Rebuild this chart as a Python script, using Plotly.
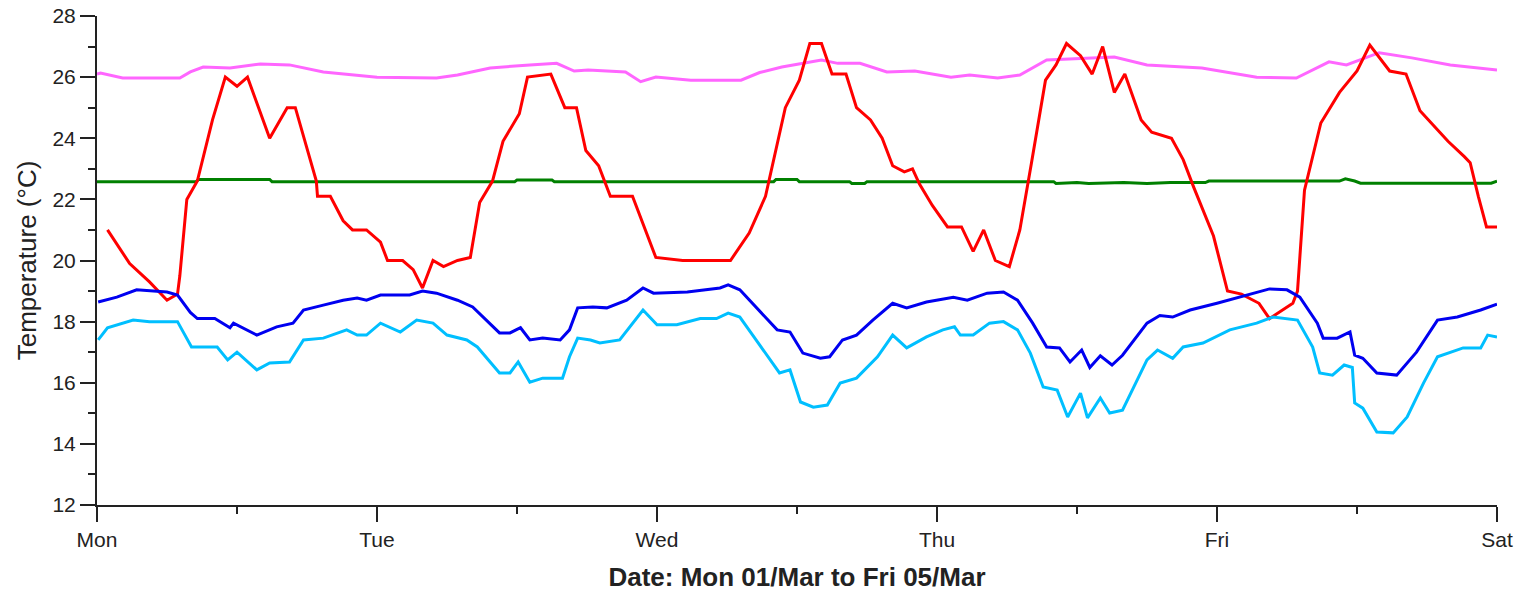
import plotly.graph_objects as go

# Hours since Mon 00:00 (0..120 = Mon..Sat)
day_ticks = [0, 24, 48, 72, 96, 120]
day_labels = ["Mon", "Tue", "Wed", "Thu", "Fri", "Sat"]

magenta_h = [0, 0.3, 2.2, 7.1, 8.0, 9.1, 11.4, 14.0, 16.5, 19.4, 24.0, 26.8, 29.1, 30.9, 33.7,
             37.1, 39.4, 40.9, 42.1, 45.3, 46.6, 47.9, 50.9, 55.2, 56.8, 58.7, 62.1, 63.5, 65.4,
             67.7, 70.1, 73.2, 74.8, 77.2, 79.1, 81.4, 83.4, 87.2, 90.0, 94.7, 99.4, 102.8,
             105.6, 107.1, 109.9, 112.7, 116.0, 120.0]
magenta_v = [26.1, 26.13, 25.97, 25.97, 26.17, 26.33, 26.3, 26.43, 26.4, 26.17, 26.0, 25.97, 25.97,
             26.07, 26.3, 26.4, 26.45, 26.2, 26.23, 26.17, 25.85, 26.0, 25.9, 25.9, 26.15, 26.33,
             26.56, 26.45, 26.45, 26.17, 26.2, 26.0, 26.07, 25.97, 26.07, 26.56, 26.6, 26.66,
             26.4, 26.3, 26.0, 25.97, 26.5, 26.4, 26.8, 26.63, 26.4, 26.23]

red_h = [0.9, 2.8, 4.5, 6.0, 6.9, 7.1, 7.7, 8.6, 9.9, 11.0, 12.0, 12.9, 14.8, 16.3, 17.0, 18.8,
         18.9, 20.0, 21.1, 21.9, 23.1, 24.3, 24.9, 26.2, 27.1, 27.9, 28.8, 29.7, 30.9, 32.0, 32.8,
         33.9, 34.8, 36.2, 36.9, 38.9, 40.1, 41.1, 41.9, 43.0, 44.0, 45.9, 47.9, 50.2, 54.3, 55.9,
         57.3, 59.0, 60.2, 61.1, 62.1, 63.0, 64.2, 65.1, 66.3, 67.3, 68.2, 69.2, 69.9, 70.5, 71.6,
         72.9, 74.1, 75.1, 76.0, 77.0, 78.2, 79.1, 80.1, 81.3, 82.2, 83.1, 84.3, 85.3, 86.2, 87.2,
         88.1, 89.5, 90.4, 92.1, 93.1, 94.0, 95.7, 96.9, 98.1, 99.6, 100.5, 102.5, 102.9, 103.5,
         104.9, 106.5, 108.0, 109.1, 110.8, 112.2, 113.4, 114.6, 115.8, 117.2, 117.7, 118.4,
         119.1, 120.0]
red_v = [21.0, 19.9, 19.3, 18.7, 18.9, 19.5, 22.0, 22.6, 24.6, 26.0, 25.7, 26.0, 24.0, 25.0, 25.0,
         22.6, 22.1, 22.1, 21.3, 21.0, 21.0, 20.6, 20.0, 20.0, 19.7, 19.1, 20.0, 19.8, 20.0, 20.1,
         21.9, 22.6, 23.9, 24.8, 26.0, 26.1, 25.0, 25.0, 23.6, 23.1, 22.1, 22.1, 20.1, 20.0, 20.0,
         20.9, 22.1, 25.0, 25.9, 27.1, 27.1, 26.1, 26.1, 25.0, 24.6, 24.0, 23.1, 22.9, 23.0, 22.5,
         21.8, 21.1, 21.1, 20.3, 21.0, 20.0, 19.8, 21.0, 23.2, 25.9, 26.4, 27.1, 26.7, 26.1, 27.0,
         25.5, 26.1, 24.6, 24.2, 24.0, 23.3, 22.4, 20.8, 19.0, 18.9, 18.6, 18.1, 18.6, 19.0, 22.3,
         24.5, 25.5, 26.2, 27.05, 26.2, 26.1, 24.9, 24.4, 23.9, 23.4, 23.2, 22.1, 21.1, 21.1]

green_h = [0, 8.5, 8.7, 14.8, 15.0, 35.8, 36.0, 39.0, 39.2, 58.0, 58.2, 60.0, 60.2, 64.5, 64.7,
           65.8, 66.0, 82.0, 82.2, 84.0, 85.0, 88.0, 90.0, 92.0, 95.0, 95.3, 106.5, 107.0, 107.8,
           108.3, 119.5, 120.0]
green_v = [22.58, 22.58, 22.65, 22.65, 22.58, 22.58, 22.63, 22.63, 22.58, 22.58, 22.65, 22.65,
           22.58, 22.58, 22.52, 22.52, 22.58, 22.58, 22.52, 22.55, 22.52, 22.55, 22.52, 22.55,
           22.55, 22.6, 22.6, 22.67, 22.6, 22.53, 22.53, 22.6]

blue_h = [0.1, 1.7, 3.4, 6.0, 6.9, 8.0, 8.6, 10.1, 11.4, 11.7, 13.7, 15.4, 16.8, 17.7, 19.4, 21.1,
          22.3, 23.1, 24.3, 26.8, 27.9, 29.1, 30.9, 32.2, 34.5, 35.4, 36.3, 37.1, 38.2, 39.7, 40.5,
          41.2, 42.5, 43.7, 45.4, 46.8, 47.7, 50.6, 53.4, 54.1, 55.1, 56.2, 58.3, 59.4, 60.5, 62.0,
          62.8, 63.9, 65.1, 66.5, 68.2, 69.4, 71.1, 73.4, 74.6, 76.3, 77.7, 78.9, 80.2, 81.4, 82.5,
          83.4, 84.4, 85.1, 86.0, 87.0, 87.9, 90.0, 91.1, 92.2, 93.7, 96.0, 98.2, 100.5, 102.0,
          103.1, 104.6, 105.1, 106.3, 107.4, 107.8, 108.5, 109.7, 111.4, 113.1, 114.9, 116.6,
          118.6, 120.0]
blue_v = [18.64, 18.8, 19.04, 18.97, 18.87, 18.3, 18.1, 18.1, 17.8, 17.95, 17.56, 17.83, 17.95,
          18.38, 18.54, 18.7, 18.77, 18.7, 18.87, 18.87, 19.0, 18.93, 18.7, 18.48, 17.63, 17.63,
          17.8, 17.4, 17.46, 17.4, 17.73, 18.45, 18.48, 18.45, 18.7, 19.1, 18.93, 18.97, 19.1,
          19.2, 19.04, 18.6, 17.73, 17.66, 16.97, 16.8, 16.85, 17.4, 17.56, 18.05, 18.6, 18.45,
          18.64, 18.8, 18.7, 18.93, 18.97, 18.7, 17.95, 17.17, 17.14, 16.68, 17.07, 16.5, 16.88,
          16.58, 16.9, 17.95, 18.2, 18.15, 18.38, 18.6, 18.84, 19.07, 19.04, 18.8, 17.95, 17.46,
          17.46, 17.66, 16.9, 16.8, 16.32, 16.25, 17.0, 18.05, 18.15, 18.38, 18.57]

cyan_h = [0.1, 0.9, 3.1, 4.5, 6.9, 8.1, 10.3, 11.2, 12.0, 13.7, 14.8, 16.5, 17.7, 19.4, 21.4, 22.3,
          23.1, 24.3, 26.0, 27.4, 28.8, 30.0, 31.7, 32.6, 34.5, 35.4, 36.1, 37.1, 38.2, 39.9, 40.5,
          41.2, 42.3, 43.1, 44.8, 46.8, 48.0, 49.7, 51.7, 53.1, 54.1, 55.1, 56.2, 57.1, 58.5, 59.4,
          60.3, 61.4, 62.6, 63.7, 65.1, 66.9, 68.2, 69.4, 71.1, 72.5, 73.5, 74.0, 75.1, 76.5, 77.7,
          78.9, 80.0, 81.1, 82.3, 83.2, 84.3, 84.9, 86.0, 86.8, 87.9, 90.0, 90.9, 92.2, 93.1, 94.8,
          97.1, 99.4, 100.8, 102.9, 104.2, 104.8, 105.9, 106.9, 107.6, 107.8, 108.5, 109.7, 111.1,
          112.3, 113.7, 114.9, 117.1, 118.6, 119.2, 120.0]
cyan_v = [17.4, 17.8, 18.05, 18.0, 18.0, 17.17, 17.17, 16.75, 17.0, 16.42, 16.65, 16.68, 17.4,
          17.46, 17.73, 17.56, 17.56, 17.95, 17.66, 18.05, 17.95, 17.56, 17.4, 17.17, 16.32, 16.32,
          16.68, 16.02, 16.15, 16.15, 16.85, 17.46, 17.4, 17.3, 17.4, 18.38, 17.9, 17.9, 18.1, 18.1,
          18.28, 18.15, 17.56, 17.07, 16.32, 16.42, 15.37, 15.2, 15.27, 15.99, 16.15, 16.85, 17.56,
          17.14, 17.5, 17.73, 17.83, 17.56, 17.56, 17.95, 18.0, 17.73, 16.97, 15.86, 15.76, 14.88,
          15.66, 14.85, 15.5, 15.01, 15.1, 16.75, 17.07, 16.8, 17.17, 17.3, 17.73, 17.95, 18.15,
          18.05, 17.17, 16.32, 16.25, 16.58, 16.5, 15.34, 15.17, 14.39, 14.36, 14.88, 15.99, 16.85,
          17.14, 17.14, 17.56, 17.5]

series = [
    (magenta_h, magenta_v, "#ff66ff"),
    (green_h, green_v, "#008000"),
    (red_h, red_v, "#ff0000"),
    (cyan_h, cyan_v, "#00bfff"),
    (blue_h, blue_v, "#0000f0"),
]

fig = go.Figure()
for h, v, c in series:
    fig.add_trace(go.Scatter(x=h, y=v, mode="lines", line=dict(color=c, width=3),
                             showlegend=False, hoverinfo="skip"))

font_family = "Liberation Sans, Arial, sans-serif"
fig.update_layout(
    width=1515, height=592,
    margin=dict(l=97, r=18, t=16, b=87, autoexpand=False),
    paper_bgcolor="white", plot_bgcolor="white",
    font=dict(family=font_family, color="#222222", size=21),
)
fig.update_xaxes(
    range=[0, 120], tickmode="array", tickvals=day_ticks, ticktext=day_labels,
    showline=True, linecolor="#222222", linewidth=2, showgrid=False, zeroline=False,
    ticks="outside", ticklen=15, tickwidth=2, tickcolor="#222222",
    tickfont=dict(size=21), automargin=False, ticklabeloverflow="allow",
    minor=dict(ticks="outside", ticklen=7, tickwidth=2, tickcolor="#222222", dtick=12, tick0=0,
               showgrid=False),
    title=dict(text="<b>Date: Mon 01/Mar to Fri 05/Mar</b>", font=dict(size=26), standoff=20),
)
fig.update_yaxes(
    range=[12, 28], tickmode="linear", tick0=12, dtick=2,
    showline=True, linecolor="#222222", linewidth=2, showgrid=False, zeroline=False,
    ticks="outside", ticklen=15, tickwidth=2, tickcolor="#222222",
    tickfont=dict(size=21), automargin=False, ticklabeloverflow="allow",
    minor=dict(ticks="outside", ticklen=7, tickwidth=2, tickcolor="#222222", dtick=1,
               showgrid=False),
    title=dict(text="Temperature (°C)", font=dict(size=26), standoff=8),
)

# remove the page's default 8px body margin so the figure sits at the window's top-left corner
fig.write_html("out.html", config={"displayModeBar": False},
               post_script="document.body.style.margin='0';")
